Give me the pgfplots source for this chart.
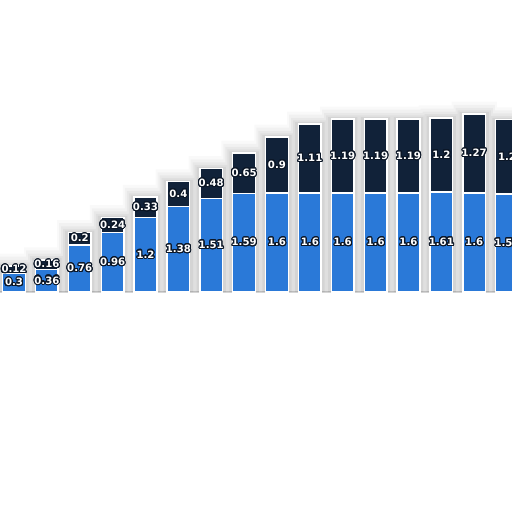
\documentclass[border=0pt]{standalone}
\usepackage{pgfplots}
\usepackage{pgfplotstable}
\pgfplotsset{compat=1.18}
\usepackage{fontspec}
\setmainfont{DejaVu Sans}
\usepackage{contour}
\contourlength{0.8pt}
\contournumber{24}
\definecolor{barblue}{HTML}{2A79D8}
\definecolor{barnavy}{HTML}{112239}
\definecolor{labdark}{HTML}{0B1626}

\pgfplotstableread{
x a b
0 0.3 0.12
1 0.36 0.16
2 0.76 0.2
3 0.96 0.24
4 1.2 0.33
5 1.38 0.4
6 1.51 0.48
7 1.59 0.65
8 1.6 0.9
9 1.6 1.11
10 1.6 1.19
11 1.6 1.19
12 1.6 1.19
13 1.61 1.2
14 1.6 1.27
15 1.58 1.2
}\datatable

\begin{document}
\begin{tikzpicture}
\begin{axis}[
    at={(0,0)}, anchor=south west,
    scale only axis,
    width=384pt, height=384pt,
    xmin=-0.426, xmax=15.15,
    ymin=-3.548, ymax=4.71,
    clip=true,
    axis line style={draw=none},
    xtick=\empty,
    ytick={0},
    yticklabels={},
    major tick length=0pt,
    ymajorgrids,
    grid style={solid, gray!30, line width=0.8pt},
    every node near coord/.append style={anchor=center, text=white,
        font=\fontsize{7.6}{8}\selectfont\bfseries},
]
% soft grey halo behind the bars
\addplot[ybar, bar shift=0pt, bar width=34pt, fill=black, fill opacity=0.025, draw=none]
    table[x=x, y expr=\thisrow{a}+\thisrow{b}+0.2] {\datatable};
\addplot[ybar, bar shift=0pt, bar width=31pt, fill=black, fill opacity=0.03, draw=none]
    table[x=x, y expr=\thisrow{a}+\thisrow{b}+0.15] {\datatable};
\addplot[ybar, bar shift=0pt, bar width=28pt, fill=black, fill opacity=0.035, draw=none]
    table[x=x, y expr=\thisrow{a}+\thisrow{b}+0.1] {\datatable};
\addplot[ybar, bar shift=0pt, bar width=25pt, fill=black, fill opacity=0.04, draw=none]
    table[x=x, y expr=\thisrow{a}+\thisrow{b}+0.06] {\datatable};
\addplot[ybar, bar shift=0pt, bar width=22pt, fill=black, fill opacity=0.05, draw=none]
    table[x=x, y expr=\thisrow{a}+\thisrow{b}+0.03] {\datatable};
% stacked bars: navy total, blue part over it
\addplot[ybar, bar shift=0pt, bar width=17pt, fill=barnavy, draw=white, line width=1.1pt]
    table[x=x, y expr=\thisrow{a}+\thisrow{b}] {\datatable};
\addplot[ybar, bar shift=0pt, bar width=17pt, fill=barblue, draw=white, line width=1.1pt]
    table[x=x, y=a] {\datatable};
% labels centred in each segment
\addplot[draw=none, mark=none, point meta=explicit symbolic,
    nodes near coords={\contour{labdark}{\pgfplotspointmeta}}]
    table[x=x, y expr=\thisrow{a}/2, meta=a] {\datatable};
\addplot[draw=none, mark=none, point meta=explicit symbolic,
    nodes near coords={\contour{labdark}{\pgfplotspointmeta}}]
    table[x=x, y expr=\thisrow{a}+\thisrow{b}/2, meta=b] {\datatable};
\end{axis}
\pgfresetboundingbox
\useasboundingbox (0,0) rectangle (384pt,384pt);
\end{tikzpicture}
\end{document}
